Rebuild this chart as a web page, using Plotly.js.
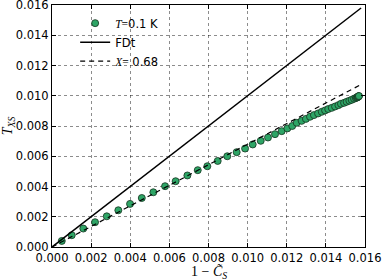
<!DOCTYPE html>
<html>
<head>
<meta charset="utf-8">
<script src="https://cdn.plot.ly/plotly-3.0.1.min.js"></script>
<style>html,body{margin:0;padding:0;background:#fff;}#chart{width:382px;height:280px;}</style>
</head>
<body>
<div id="chart"></div>
<script>
// Data
const oneMinusCs = [0.00050, 0.00101, 0.00160, 0.00220, 0.00280, 0.00339, 0.00399, 0.00459, 0.00518, 0.00578,
  0.00632, 0.00692, 0.00745, 0.00794, 0.00847, 0.00896, 0.00944, 0.00987, 0.01026, 0.01067,
  0.01104, 0.01140, 0.01174, 0.01203, 0.01228, 0.01251, 0.01276, 0.01298, 0.01319, 0.01339,
  0.01360, 0.01379, 0.01396, 0.01412, 0.01430, 0.01447, 0.01464, 0.01477, 0.01493, 0.01506,
  0.01520, 0.01532, 0.01544, 0.01553, 0.01558, 0.01561, 0.01563, 0.01565, 0.01567, 0.01568, 0.01569];
const Txs = [0.00040, 0.00078, 0.00122, 0.00164, 0.00203, 0.00243, 0.00285, 0.00324, 0.00362, 0.00402,
  0.00435, 0.00473, 0.00508, 0.00534, 0.00569, 0.00600, 0.00627, 0.00651, 0.00678, 0.00702,
  0.00724, 0.00746, 0.00766, 0.00784, 0.00800, 0.00821, 0.00834, 0.00847, 0.00861, 0.00872,
  0.00883, 0.00894, 0.00903, 0.00912, 0.00920, 0.00929, 0.00938, 0.00947, 0.00953, 0.00960,
  0.00967, 0.00973, 0.00980, 0.00985, 0.00988, 0.00990, 0.00992, 0.00994, 0.00996, 0.00997, 0.00998];
const fdtX = [0, 0.0158];
const fdtY = [0, 0.0158];
const Xfit = 0.68;
const fitX = [0, 0.0157];
const fitY = fitX.map(v => Xfit * v);
const tickVals = [0, 0.002, 0.004, 0.006, 0.008, 0.010, 0.012, 0.014, 0.016];
const tickText = ['0.000', '0.002', '0.004', '0.006', '0.008', '0.010', '0.012', '0.014', '0.016'];
const xTitle = '1 − <i>C̃</i><sub><i>S</i></sub>';
const yTitle = '<i>T</i><sub><i>XS</i></sub>';

const serif = "'Liberation Serif', 'DejaVu Serif', serif";
const sans = "'DejaVu Sans', sans-serif";

const traces = [
  {
    x: oneMinusCs, y: Txs, mode: 'markers', type: 'scatter',
    name: "<span style=\"font-family:Liberation Serif\"><i>T</i>=</span>0.1 K",
    marker: {size: 7, color: 'rgb(46,165,102)', line: {color: 'rgb(20,50,30)', width: 0.8}},
    cliponaxis: false
  },
  {
    x: fdtX, y: fdtY, mode: 'lines', type: 'scatter', name: 'FDt',
    line: {color: 'black', width: 1.5}
  },
  {
    x: fitX, y: fitY, mode: 'lines', type: 'scatter',
    name: "<span style=\"font-family:Liberation Serif\"><i>X</i>=</span> " + Xfit.toFixed(2),
    line: {color: 'black', width: 1.2, dash: '5px,4px'}
  }
];

const axisCommon = {
  tickvals: tickVals, ticktext: tickText,
  ticks: 'inside', ticklen: 4, tickwidth: 1, tickcolor: 'black',
  showline: true, linecolor: 'black', linewidth: 1, mirror: 'ticks',
  showgrid: true, gridcolor: 'rgba(0,0,0,0.45)', gridwidth: 1, griddash: 'dot',
  zeroline: false, ticklabeloverflow: 'allow',
  tickfont: {family: sans, size: 11.5, color: 'black'}
};

const layout = {
  width: 382, height: 280,
  margin: {l: 52, r: 17, t: 5, b: 33},
  paper_bgcolor: 'white', plot_bgcolor: 'white',
  showlegend: true,
  legend: {
    x: 0.074, y: 0.985, xanchor: 'left', yanchor: 'top',
    bgcolor: 'rgba(0,0,0,0)', borderwidth: 0,
    font: {family: sans, size: 11.5, color: 'black'},
    tracegroupgap: 0
  },
  xaxis: Object.assign({}, axisCommon, {range: [0, 0.016]}),
  yaxis: Object.assign({}, axisCommon, {
    range: [0, 0.0160001],
    title: {text: yTitle, font: {family: serif, size: 14, color: 'black'}, standoff: 0}
  }),
  annotations: [{
    text: xTitle, xref: 'paper', yref: 'paper', x: 0.5, y: -0.107,
    xanchor: 'center', yanchor: 'middle', showarrow: false,
    font: {family: serif, size: 14, color: 'black'}
  }]
};

Plotly.newPlot('chart', traces, layout, {staticPlot: true, displayModeBar: false});
</script>
</body>
</html>
